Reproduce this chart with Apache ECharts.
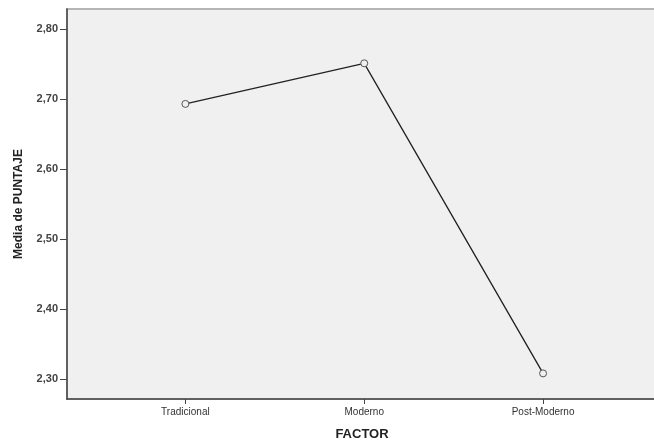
<!DOCTYPE html>
<html><head><meta charset="utf-8">
<script src="https://cdn.jsdelivr.net/npm/echarts@6/dist/echarts.min.js"></script>
<style>html,body{margin:0;padding:0;background:#fff}#c{width:654px;height:442px}</style>
</head><body><div id="c"></div>
<script>
var categories = ["Tradicional", "Moderno", "Post-Moderno"];
var means = [2.693, 2.751, 2.308];
var yTicks = [2.30, 2.40, 2.50, 2.60, 2.70, 2.80];

var chart = echarts.init(document.getElementById('c'));
chart.setOption({
  animation: false,
  grid: {left: 67, right: -3, top: 9, bottom: 43, outerBoundsMode: 'none', containLabel: false, show: true, backgroundColor: '#f0f0f0', borderWidth: 2, borderColor: '#b5b5b5'},
  xAxis: {
    type: 'value', min: -0.662, max: 2.637, interval: 1,
    name: 'FACTOR', nameLocation: 'middle', nameGap: 29,
    nameTextStyle: {fontFamily: 'Liberation Sans', fontWeight: 'bold', fontSize: 13, color: '#222'},
    axisLine: {show: true, onZero: false, lineStyle: {color: '#444', width: 1.5}},
    axisTick: {show: true, length: 5, lineStyle: {color: '#444'}, customValues: [0,1,2]},
    axisLabel: {customValues: [0,1,2], formatter: function(v){return categories[Math.round(v)];}, fontFamily: 'Liberation Sans', fontSize: 10, color: '#333', margin: 8},
    splitLine: {show: false}
  },
  yAxis: {
    type: 'value', min: 2.2714, max: 2.8286,
    name: 'Media de PUNTAJE', nameLocation: 'middle', nameGap: 42,
    nameTextStyle: {fontFamily: 'Liberation Sans', fontWeight: 'bold', fontSize: 12, color: '#222'},
    axisLine: {show: true, onZero: false, lineStyle: {color: '#444', width: 1.5}},
    axisTick: {show: true, length: 7, lineStyle: {color: '#444'}, customValues: yTicks},
    axisLabel: {customValues: yTicks, formatter: function(v){return v.toFixed(2).replace('.', ',');}, fontFamily: 'Liberation Sans', fontSize: 11, fontWeight: 'bold', color: '#444', margin: 9},
    splitLine: {show: false}
  },
  series: [{
    type: 'line',
    data: means.map(function(v, i){return [i, v];}),
    symbol: 'circle', symbolSize: 7,
    itemStyle: {color: '#f0f0f0', borderColor: '#555', borderWidth: 1},
    lineStyle: {color: '#222', width: 1.3}
  }]
});
</script></body></html>
